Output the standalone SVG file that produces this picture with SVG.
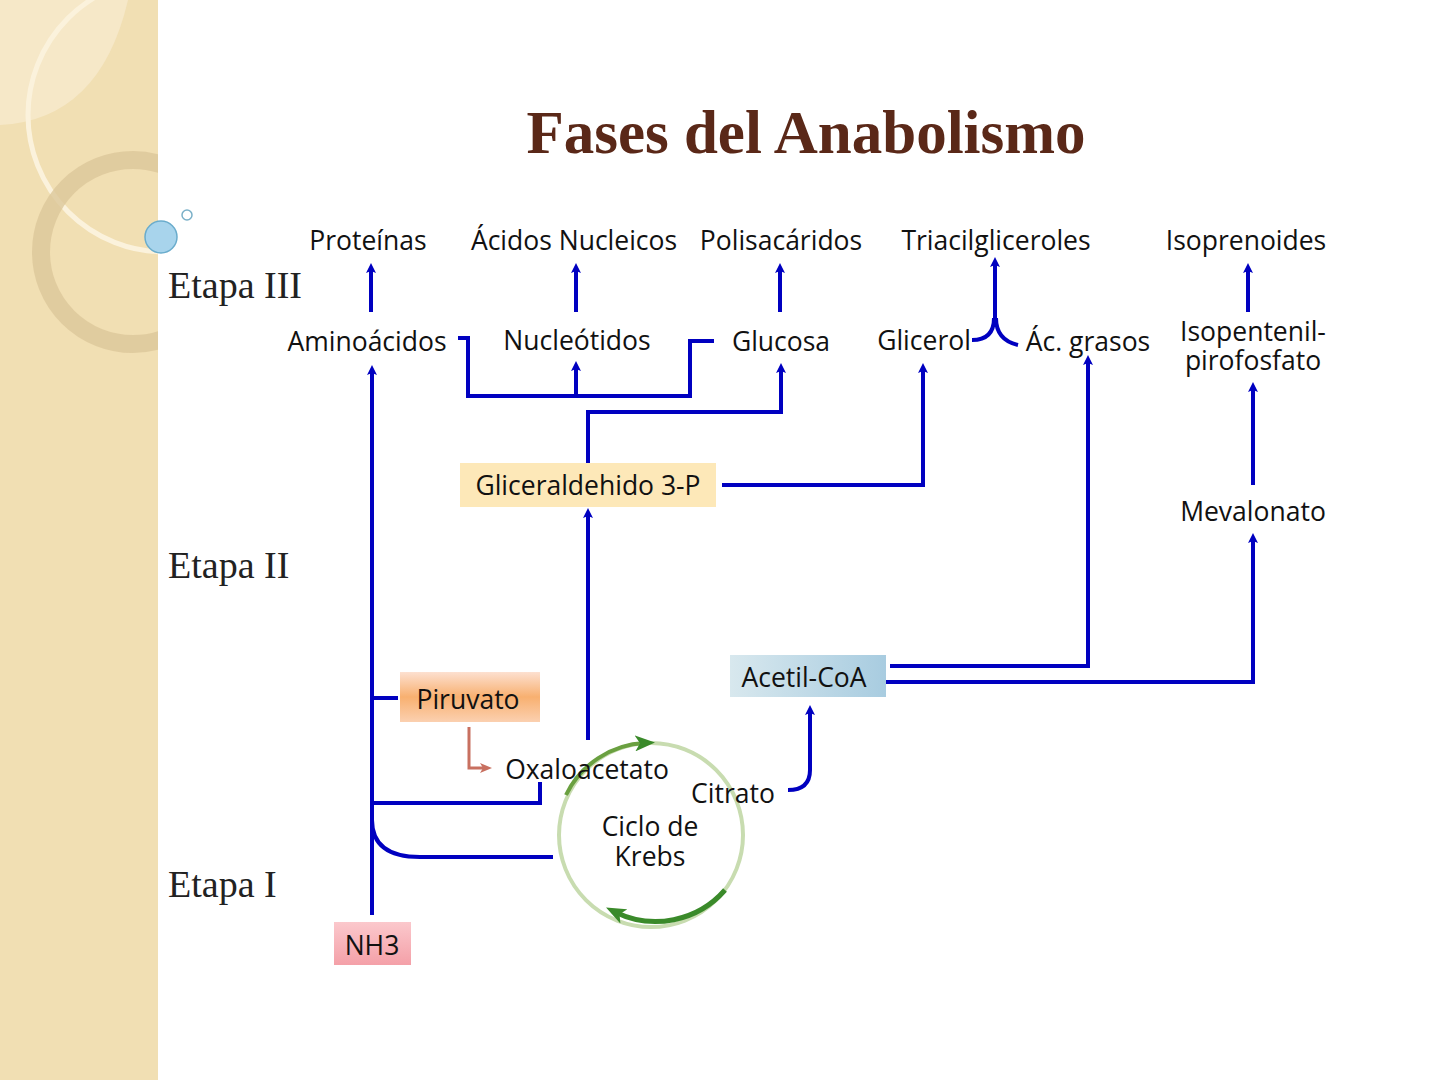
<svg xmlns="http://www.w3.org/2000/svg" width="1440" height="1080" viewBox="0 0 1440 1080">
<defs>
<marker id="ab" markerWidth="10" markerHeight="10" refX="5" refY="5" orient="auto" markerUnits="userSpaceOnUse" viewBox="0 0 10 10"><path d="M0,0 L10,5 L0,10 L2,5 Z" fill="#0000c0"/></marker>
<marker id="ar" markerWidth="12" markerHeight="12" refX="6" refY="6" orient="auto" markerUnits="userSpaceOnUse" viewBox="0 0 12 12"><path d="M0,1 L12,6 L0,11 L3,6 Z" fill="#c87060"/></marker>
<marker id="ag" markerWidth="20" markerHeight="16" refX="10" refY="8" orient="auto" markerUnits="userSpaceOnUse" viewBox="0 0 20 16"><path d="M0,0 L20,8 L0,16 L5,8 Z" fill="#3a8a2a"/></marker>
<linearGradient id="pir" x1="0" y1="0" x2="0" y2="1"><stop offset="0" stop-color="#fde0d0"/><stop offset="0.5" stop-color="#f8b070"/><stop offset="1" stop-color="#fbd0b0"/></linearGradient>
<linearGradient id="ace" x1="0" y1="0" x2="1" y2="0"><stop offset="0" stop-color="#d8e8ee"/><stop offset="1" stop-color="#a8cce0"/></linearGradient>
<linearGradient id="nh" x1="0" y1="0" x2="0" y2="1"><stop offset="0" stop-color="#fbc8cc"/><stop offset="1" stop-color="#f4a0a8"/></linearGradient>
<clipPath id="cl"><rect x="0" y="0" width="158" height="1080"/></clipPath>
</defs>
<style>
.t{font-family:"Open Sans","Noto Sans",sans-serif;font-size:26.5px;fill:#111;text-anchor:middle}
.e{font-family:"Liberation Serif",serif;font-size:38px;fill:#222}
.c{fill:none;stroke:#0000c0;stroke-width:4}
.a{marker-end:url(#ab)}
</style>
<rect width="1440" height="1080" fill="#fff"/>
<g id="decor">
<rect x="0" y="0" width="158" height="1080" fill="#f1dfb3"/>
<g clip-path="url(#cl)" fill="none">
<path d="M0,125 Q100,120 128,0 L0,0Z" fill="#f6e8c8" stroke="none"/>
<circle cx="165" cy="115" r="137" stroke="#fbf2dc" stroke-width="5"/>
<circle cx="133" cy="252" r="92" stroke="#dcc79a" stroke-width="18" opacity="0.8"/>
</g>
<circle cx="161" cy="237" r="16" fill="#a8d4ec" stroke="#6aaccc" stroke-width="1.5"/>
<circle cx="187" cy="215" r="5" fill="#fff" stroke="#7ab0c8" stroke-width="1.5"/>
</g>
<text x="806" y="153" font-family="Liberation Serif,serif" font-size="61" font-weight="bold" fill="#5a2818" text-anchor="middle">Fases del Anabolismo</text>
<text class="e" x="168" y="298">Etapa III</text>
<text class="e" x="168" y="578">Etapa II</text>
<text class="e" x="168" y="897">Etapa I</text>
<g id="connectors">
<path class="c a" d="M371,312 V268"/>
<path class="c a" d="M576,312 V268"/>
<path class="c a" d="M780,312 V268"/>
<path class="c a" d="M1248,312 V268"/>
<path class="c a" d="M372,915 V370"/>
<path class="c" d="M372,698 H398"/>
<path class="c" d="M372,803 H540 V782"/>
<path class="c" d="M372,820 Q372,857 420,857 H553"/>
<path class="c" d="M458,338 H468 V396 H690 V341 H714"/>
<path class="c a" d="M576,396 V366"/>
<path class="c a" d="M588,463 V412 H781 V368"/>
<path class="c a" d="M588,740 V513"/>
<path class="c a" d="M722,485 H923 V368"/>
<path class="c" d="M972,340 Q994,340 994,318 M1018,345 Q996,340 996,318"/>
<path class="c a" d="M995,322 V262"/>
<path class="c a" d="M890,666 H1088 V360"/>
<path class="c a" d="M870,682 H1253 V538"/>
<path class="c a" d="M1253,485 V387"/>
<path class="c a" d="M788,790 Q810,790 810,770 V710"/>
<path d="M469,727 V768 H486" fill="none" stroke="#c87060" stroke-width="3" marker-end="url(#ar)"/>
</g>
<g id="krebs">
<circle cx="651" cy="835" r="92" fill="none" stroke="#c8dcb0" stroke-width="4"/>
<path d="M566,795 A92,92 0 0 1 645,743" fill="none" stroke="#6aa040" stroke-width="4" marker-end="url(#ag)"/>
<path d="M725,890 A92,92 0 0 1 615,912" fill="none" stroke="#3a8a2a" stroke-width="5" marker-end="url(#ag)"/>
<text class="t" x="650" y="836">Ciclo de</text>
<text class="t" x="650" y="866">Krebs</text>
</g>
<g id="proteinas"><text class="t" x="368" y="250">Proteínas</text></g>
<g id="acidos"><text class="t" x="574" y="250">Ácidos Nucleicos</text></g>
<g id="polisacaridos"><text class="t" x="781" y="250">Polisacáridos</text></g>
<g id="triacil"><text class="t" x="996" y="250">Triacilgliceroles</text></g>
<g id="isoprenoides"><text class="t" x="1246" y="250">Isoprenoides</text></g>
<g id="aminoacidos"><text class="t" x="367" y="351">Aminoácidos</text></g>
<g id="nucleotidos"><text class="t" x="577" y="350">Nucleótidos</text></g>
<g id="glucosa"><text class="t" x="781" y="351">Glucosa</text></g>
<g id="glicerol"><text class="t" x="924" y="350">Glicerol</text></g>
<g id="acgrasos"><text class="t" x="1088" y="351">Ác. grasos</text></g>
<g id="isopentenil"><text class="t" x="1253" y="341">Isopentenil-</text><text class="t" x="1253" y="370">pirofosfato</text></g>
<g id="mevalonato"><text class="t" x="1253" y="521">Mevalonato</text></g>
<g id="gliceraldehido"><rect x="460" y="463" width="256" height="44" fill="#fde8b8"/><text class="t" x="588" y="495">Gliceraldehido  3-P</text></g>
<g id="piruvato"><rect x="400" y="672" width="140" height="50" fill="url(#pir)"/><text class="t" x="468" y="709">Piruvato</text></g>
<g id="acetilcoa"><rect x="730" y="655" width="156" height="42" fill="url(#ace)"/><text class="t" x="804" y="687">Acetil-CoA</text></g>
<g id="nh3"><rect x="334" y="922" width="77" height="43" fill="url(#nh)"/><text class="t" x="372" y="955">NH3</text></g>
<g id="oxaloacetato"><text class="t" x="587" y="779">Oxaloacetato</text></g>
<g id="citrato"><text class="t" x="733" y="803">Citrato</text></g>
</svg>
